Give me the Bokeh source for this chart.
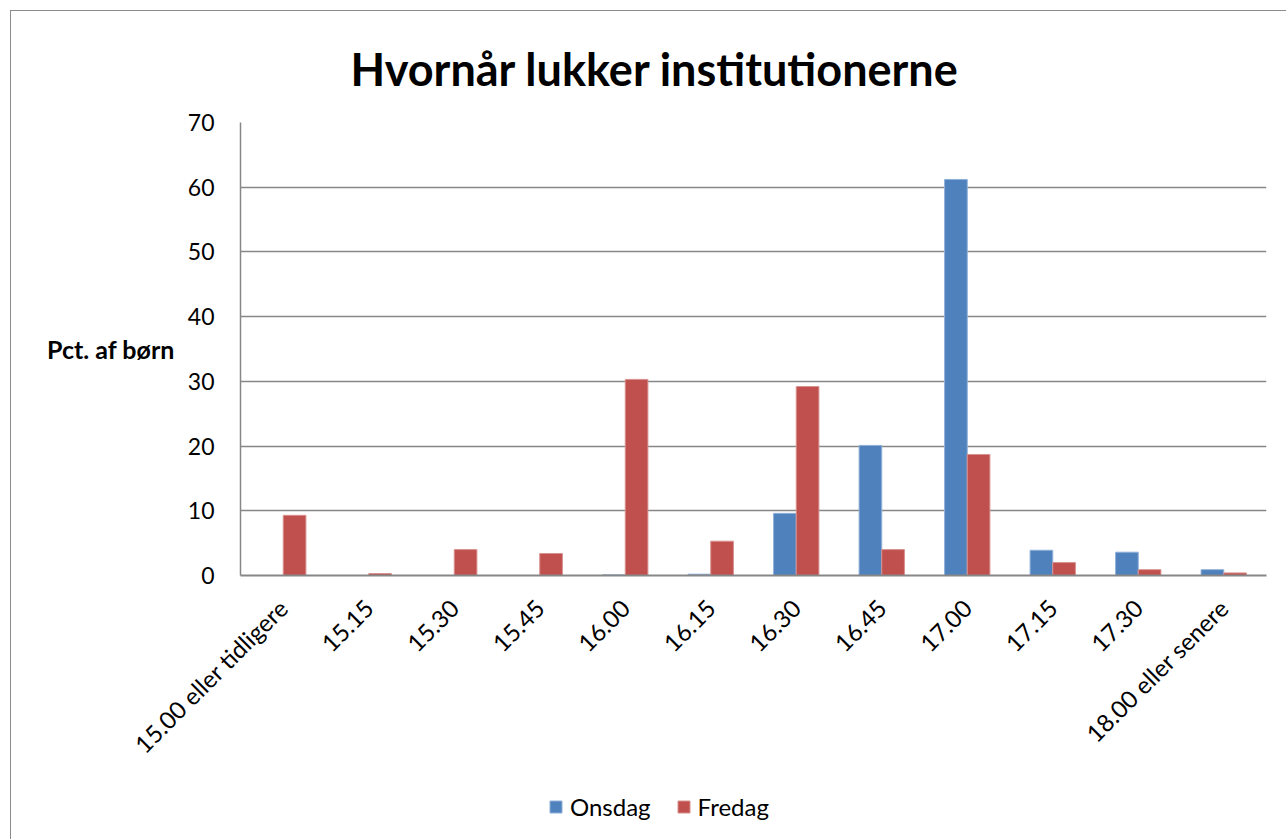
import math
from bokeh.plotting import figure
from bokeh.layouts import column
from bokeh.models import ColumnDataSource, FactorRange, Legend, LegendItem, Range1d
from bokeh.transform import dodge
from bokeh.embed import file_html
from bokeh.resources import INLINE

categories = ["15.00 eller tidligere", "15.15", "15.30", "15.45", "16.00", "16.15",
              "16.30", "16.45", "17.00", "17.15", "17.30", "18.00 eller senere"]
onsdag = [0.0, 0.0, 0.0, 0.0, 0.1, 0.2, 9.6, 20.1, 61.2, 3.9, 3.6, 0.9]
fredag = [9.3, 0.3, 4.0, 3.4, 30.3, 5.3, 29.2, 4.0, 18.7, 2.0, 0.9, 0.4]
yticks = [0, 10, 20, 30, 40, 50, 60, 70]
series_names = ["Onsdag", "Fredag"]

FONT = "Lato"
BLUE = "#4F81BD"
RED = "#C0504D"
BLUE_EDGE = "#8FB0D8"
RED_EDGE = "#D8908E"
GRID = "#878787"

source = ColumnDataSource(dict(cat=categories, onsdag=onsdag, fredag=fredag))
xr = FactorRange(*categories, range_padding=0.0)
bw = 0.265

p = figure(x_range=xr, y_range=(0, 70),
           width=1275, height=779, output_backend="svg", toolbar_location=None,
           min_border_left=229, min_border_right=20, min_border_top=111,
           min_border_bottom=215,
           title="Hvornår lukker institutionerne")

p.title.align = "left"
p.title.offset = 110
p.title.text_font = FONT
p.title.text_font_style = "bold"
p.title.text_font_size = "45px"
p.title.text_color = "black"
p.title.vertical_align = "middle"
p.title.standoff = 52

p.vbar(x=dodge("cat", -bw / 2, range=xr), top="onsdag", width=bw,
       source=source, fill_color=BLUE, line_color=BLUE_EDGE, line_width=1)
p.vbar(x=dodge("cat", bw / 2, range=xr), top="fredag", width=bw,
       source=source, fill_color=RED, line_color=RED_EDGE, line_width=1)

p.outline_line_color = None
p.xgrid.grid_line_color = None
p.ygrid.grid_line_color = GRID
p.ygrid.grid_line_width = 1.5
p.yaxis.ticker = yticks

p.yaxis.axis_line_color = GRID
p.yaxis.axis_line_width = 1.5
p.yaxis.major_tick_line_color = None
p.yaxis.minor_tick_line_color = None
p.yaxis.major_label_text_font = FONT
p.yaxis.major_label_text_font_size = "23px"
p.yaxis.major_label_text_color = "black"
p.yaxis.major_label_standoff = 20
p.yaxis.axis_label = "Pct. af børn"
p.yaxis.axis_label_orientation = "horizontal"
p.yaxis.axis_label_text_font = FONT
p.yaxis.axis_label_text_font_style = "bold"
p.yaxis.axis_label_text_font_size = "25px"
p.yaxis.axis_label_text_color = "black"
p.yaxis.axis_label_standoff = 10

p.xaxis.axis_line_color = GRID
p.xaxis.axis_line_width = 2
p.xaxis.major_tick_line_color = None
p.xaxis.minor_tick_line_color = None
p.xaxis.major_label_orientation = math.pi / 4
p.xaxis.major_label_text_font = FONT
p.xaxis.major_label_text_font_size = "24px"
p.xaxis.major_label_text_color = "black"
p.xaxis.major_label_standoff = 22

# legend strip below the chart (same series, drawn out of view so only the key shows)
pl = figure(width=1275, height=56, x_range=xr, y_range=Range1d(1000, 1001),
            output_backend="svg", toolbar_location=None,
            x_axis_location=None, y_axis_location=None, min_border=0)
pl.outline_line_color = None
pl.grid.visible = False
l1 = pl.vbar(x=dodge("cat", -bw / 2, range=xr), top="onsdag", width=bw, source=source,
             fill_color=BLUE, line_color=BLUE_EDGE)
l2 = pl.vbar(x=dodge("cat", bw / 2, range=xr), top="fredag", width=bw, source=source,
             fill_color=RED, line_color=RED_EDGE)
legend = Legend(items=[LegendItem(label=series_names[0], renderers=[l1]),
                       LegendItem(label=series_names[1], renderers=[l2])],
                orientation="horizontal", location=(308, 25),
                label_text_font=FONT, label_text_font_size="24px",
                label_text_color="black",
                label_standoff=7, padding=0, margin=0,
                glyph_width=15, glyph_height=15, spacing=25,
                border_line_color=None, background_fill_alpha=0)
pl.add_layout(legend)

layout = column(p, pl, spacing=0)
layout.styles = {"border-left": "1px solid #8c8c8c", "border-top": "1px solid #8c8c8c",
                 "margin-left": "10px", "margin-top": "10px"}

open("out.html", "w").write(file_html(layout, INLINE))
